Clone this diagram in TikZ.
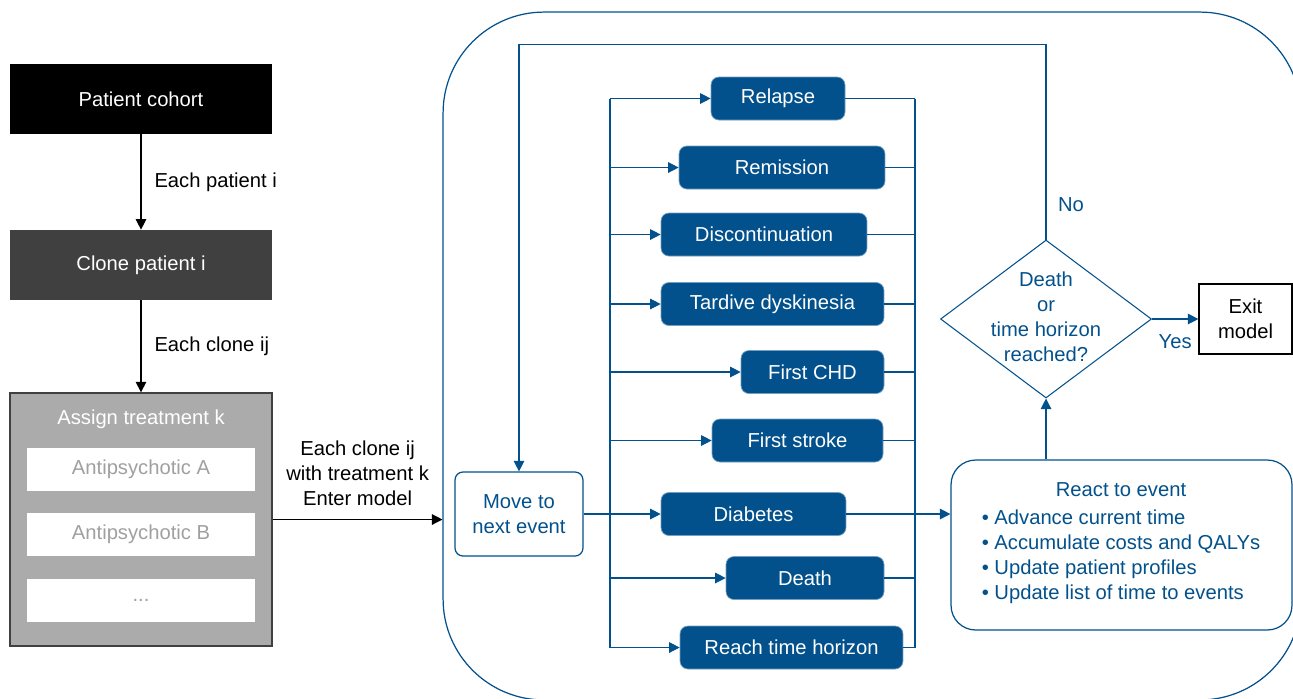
\documentclass[tikz,border=0pt]{standalone}
\usepackage{fontspec}
\setmainfont{Liberation Sans}
\usetikzlibrary{arrows.meta,shapes.geometric,positioning}

\definecolor{evblue}{RGB}{3,81,140}
\definecolor{cloneg}{RGB}{64,64,64}
\definecolor{assigng}{RGB}{171,171,171}
\definecolor{optg}{RGB}{160,160,160}

\begin{document}
\begin{tikzpicture}[x=0.02cm, y=-0.02cm,
    font=\fontsize{11.5}{14.2}\selectfont,
    >={Triangle[length=6pt,width=6pt]},
    flow/.style={draw=evblue, line width=0.7pt},
    evbox/.style={fill=evblue, draw=evblue!55, rounded corners=4.5pt, text=white,
                  minimum height=0.86cm, inner sep=0pt},
    leftbox/.style={minimum width=5.24cm, minimum height=1.4cm, text=white, inner sep=0pt},
    optbox/.style={fill=white, minimum width=4.56cm, minimum height=0.86cm, text=optg, inner sep=0pt},
    bluetxt/.style={text=evblue, align=center, inner sep=0pt},
  ]
  \clip (0,0) rectangle (1293,698);

  % patient side
  \node[leftbox, fill=black] (cohort) at (141,99) {Patient cohort};
  \node[leftbox, fill=cloneg] (clone) at (141,265) {Clone patient i};
  \node[leftbox, fill=assigng, draw=cloneg, line width=0.8pt, minimum height=5.06cm] (assign) at (141,519.5) {};
  \node[text=white, inner sep=0pt] (assigntitle) at (141,419) {Assign treatment k};
  \node[optbox] (optA) at (141,469.5) {Antipsychotic A};
  \node[optbox] (optB) at (141,534.5) {Antipsychotic B};
  \node[optbox] (optC) at (141,600) {...};

  \draw[->, line width=0.7pt] (cohort) -- (clone) node[midway, right=4pt] {Each patient i};
  \draw[->, line width=0.7pt] (clone) -- (assign) node[midway, right=4pt] {Each clone ij};

  % simulation engine
  \node[draw=evblue, line width=0.7pt, rounded corners=2.02cm, minimum width=17.16cm,
        minimum height=13.76cm] (engine) at (872,356) {};
  \draw[->, line width=0.7pt] (assign.east) -- (assign.east -| engine.west)
        node[midway, above=4pt, align=center] {Each clone ij\\with treatment k\\Enter model};

  \node[draw=evblue, fill=white, line width=0.7pt, rounded corners=4.5pt, minimum width=2.56cm,
        minimum height=1.68cm, text=evblue, align=center, inner sep=0pt] (move) at (519,514)
        {Move to\\next event};

  % events
  \node[evbox, minimum width=2.68cm] (relapse) at (778,98.5) {Relapse};
  \node[evbox, minimum width=4.12cm] (remission) at (782,167.5) {Remission};
  \node[evbox, minimum width=4.12cm] (discont) at (764,234.5) {Discontinuation};
  \node[evbox, minimum width=4.46cm] (tardive) at (772.5,304) {Tardive dyskinesia};
  \node[evbox, minimum width=2.86cm] (chd) at (812.5,372) {First CHD};
  \node[evbox, minimum width=3.42cm] (stroke) at (797.5,440.5) {First stroke};
  \node[evbox, minimum width=3.70cm] (diab) at (753.5,514) {Diabetes};
  \node[evbox, minimum width=3.16cm] (death) at (805,578) {Death};
  \node[evbox, minimum width=4.46cm] (horizon) at (791.5,647.5) {Reach time horizon};

  \coordinate (lbus) at (610,0);
  \coordinate (rbus) at (915,0);
  \draw[flow] (lbus |- relapse.west) -- (lbus |- horizon.west);
  \draw[flow] (rbus |- relapse.east) -- (rbus |- horizon.east);
  \foreach \ev in {relapse,remission,discont,tardive,chd,stroke,death,horizon} {
    \draw[flow, ->] (lbus |- \ev.west) -- (\ev.west);
    \draw[flow] (\ev.east) -- (rbus |- \ev.east);
  }
  \draw[flow, ->] (move.east) -- (diab.west);

  % reaction and decision
  \node[draw=evblue, fill=white, line width=0.7pt, rounded corners=14pt, minimum width=6.82cm,
        minimum height=3.4cm] (react) at (1121.5,545) {};
  \node[text=evblue, inner sep=0pt] (reacttxt) at (1121,543) {\begin{tabular}{@{}l@{}}
      \multicolumn{1}{c}{React to event}\\[2pt]
      \textbullet\ Advance current time\\
      \textbullet\ Accumulate costs and QALYs\\
      \textbullet\ Update patient profiles\\
      \textbullet\ Update list of time to events
    \end{tabular}};
  \draw[flow, ->] (diab.east) -- (diab.east -| react.west);

  \node[diamond, draw=evblue, line width=0.6pt, minimum width=4.22cm, minimum height=3.16cm,
        inner sep=0pt] (dec) at (1046,319) {};
  \node[bluetxt] (dectxt) at (1046,317) {Death\\or\\time horizon\\reached?};
  \draw[flow, ->] (react.north -| dec.south) -- (dec.south);

  \node[draw, line width=0.7pt, minimum width=1.86cm, minimum height=1.4cm, align=center,
        inner sep=0pt] (exit) at (1245.5,319) {Exit\\model};
  \draw[flow, ->] (dec.east) -- (exit.west) node[midway, below=5pt, text=evblue] {Yes};
  \draw[flow, ->] (dec.north) -- ++(0,-195) -| (move.north);
  \node[text=evblue, inner sep=0pt] (nolabel) at (1071,205) {No};
\end{tikzpicture}
\end{document}
